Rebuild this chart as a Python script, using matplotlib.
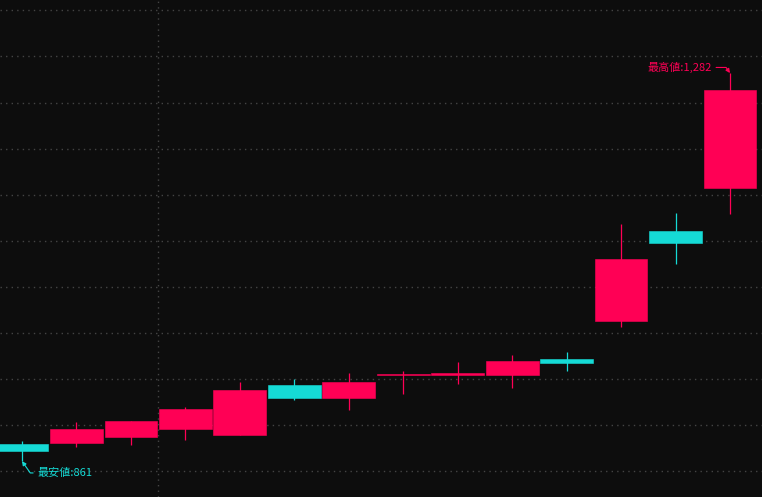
import numpy as np
import matplotlib.pyplot as plt

# OHLC (14 candles)
opens  = [879.8, 880.7, 887.2, 895.9, 889.4, 943.6, 929.5, 954.4, 954.4, 954.4, 971.8, 1013.3, 1110.6, 1157.6]
closes = [872.3, 895.9, 904.6, 917.6, 938.2, 929.5, 946.9, 955.5, 956.6, 969.6, 967.4, 1080.3, 1097.6, 1263.6]
highs  = [882.9, 903.5, 904.6, 919.7, 946.9, 950.1, 956.6, 958.8, 968.5, 976.1, 979.4, 1118.2, 1130.1, 1282.0]
lows   = [861.0, 876.4, 878.5, 884.3, 889.4, 927.3, 916.5, 933.8, 944.7, 940.3, 958.8, 1006.8, 1075.2, 1129.4]
grid_levels = [850, 900, 950, 1000, 1050, 1100, 1150, 1200, 1250, 1300, 1350]
high_label = "最高値:1,282"
low_label = "最安値:861"

UP = "#ff0055"
DOWN = "#15dbd6"
BG = "#0d0d0d"
GRID = "#444444"
JP = ["Noto Sans CJK JP", "DejaVu Sans"]

o = np.array(opens)
c = np.array(closes)
x = np.arange(len(o))
colors = [UP if cc >= oo else DOWN for oo, cc in zip(o, c)]

fig = plt.figure(figsize=(7.62, 4.97), dpi=100, facecolor=BG)
ax = fig.add_axes([0, 0, 1, 1])
ax.set_facecolor(BG)

for g in grid_levels:
    ax.axhline(g, color=GRID, lw=1, ls=(0, (1, 3)), zorder=0)
ax.axvline(2.5, color=GRID, lw=1, ls=(0, (1, 3)), zorder=0)

ax.vlines(x, lows, highs, colors=colors, lw=0.9, zorder=2)
ax.bar(x, np.abs(c - o), bottom=np.minimum(o, c), width=0.97,
       color=colors, edgecolor=colors, linewidth=0.4, zorder=3)

ih = int(np.argmax(highs))
il = int(np.argmin(lows))
ax.annotate(high_label, xy=(x[ih], highs[ih]), xytext=(-13, 4), textcoords="offset points",
            ha="right", va="center", color=UP, fontsize=8, family=JP,
            arrowprops=dict(arrowstyle="-|>", color=UP, lw=0.8, mutation_scale=6,
                            shrinkA=1, shrinkB=0,
                            connectionstyle="angle,angleA=0,angleB=-55,rad=0"))
ax.annotate(low_label, xy=(x[il], lows[il]), xytext=(11, -8.5), textcoords="offset points",
            ha="left", va="center", color=DOWN, fontsize=8, family=JP,
            arrowprops=dict(arrowstyle="-|>", color=DOWN, lw=0.8, mutation_scale=6,
                            shrinkA=1, shrinkB=0,
                            connectionstyle="angle,angleA=0,angleB=-55,rad=0"))

ax.set_xlim(-0.404, 13.588)
ax.set_ylim(822.1, 1361.2)
ax.set_xticks([])
ax.set_yticks([])
for s in ax.spines.values():
    s.set_visible(False)

fig.savefig("out.png", dpi=100, facecolor=BG)
